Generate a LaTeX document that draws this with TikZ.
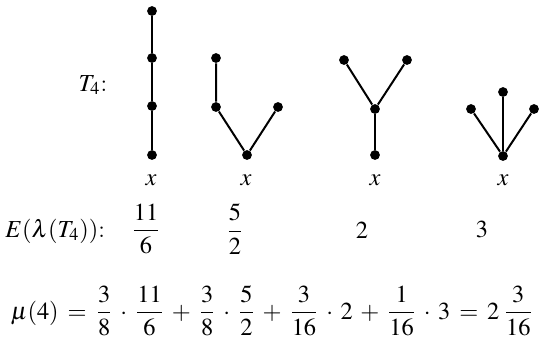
\documentclass[tikz,border=0pt]{standalone}
\usepackage{amsmath}
\usepackage{mathptmx}
\usetikzlibrary{positioning}

\begin{document}
\begin{tikzpicture}[
    x=0.45pt, y=-0.45pt,
    font=\fontsize{11}{13}\selectfont,
    vertex/.style={circle, fill=black, draw=none, inner sep=0pt, minimum size=4.4pt},
    edge/.style={line width=0.9pt, draw=black},
    root/.style={inner sep=1pt},
    val/.style={inner sep=1pt}
]
    \useasboundingbox (0,0) rectangle (539,340);

    % Label of the family
    \node (tl) at (93, 85) {$T_4$:};

    % Tree 1: path
    \node (a1) at (152, 11) [vertex] {};
    \node (a2) at (152, 58) [vertex] {};
    \node (a3) at (152, 106) [vertex] {};
    \node (a4) at (152, 155) [vertex] {};
    \draw [edge] (a1) -- (a2) -- (a3) -- (a4);

    % Tree 2
    \node (b1) at (216, 58) [vertex] {};
    \node (b2) at (216, 107) [vertex] {};
    \node (b3) at (247, 155) [vertex] {};
    \node (b4) at (278, 107) [vertex] {};
    \draw [edge] (b1) -- (b2) -- (b3) -- (b4);

    % Tree 3
    \node (c1) at (344, 60) [vertex] {};
    \node (c2) at (407, 60) [vertex] {};
    \node (c3) at (375, 109) [vertex] {};
    \node (c4) at (375, 155) [vertex] {};
    \draw [edge] (c1) -- (c3) -- (c2);
    \draw [edge] (c3) -- (c4);

    % Tree 4: star
    \node (d1) at (471, 109) [vertex] {};
    \node (d2) at (503, 92) [vertex] {};
    \node (d3) at (534, 109) [vertex] {};
    \node (d4) at (503, 156) [vertex] {};
    \draw [edge] (d1) -- (d4) -- (d3);
    \draw [edge] (d2) -- (d4);

    % Roots
    \node (xa) at (151, 180) [root] {$x$};
    \node (xb) at (246, 180) [root] {$x$};
    \node (xc) at (375, 180) [root] {$x$};
    \node (xd) at (503, 180) [root] {$x$};

    % Expected values
    \node (el) at (5, 231) [anchor=west, inner sep=0pt] {$E(\lambda(T_4))$:};
    \node (ea) at (146, 229) [val] {$\dfrac{11}{6}$};
    \node (eb) at (235, 229) [val] {$\dfrac{5}{2}$};
    \node (ec) at (362, 230) [val] {$2$};
    \node (ed) at (482, 230) [val] {$3$};

    % Average
    \node (mu) at (272, 311) {\medmuskip=5.5mu \thickmuskip=6.5mu
        $\mu(4) = \dfrac{3}{8}\cdot\dfrac{11}{6}+\dfrac{3}{8}\cdot\dfrac{5}{2}+\dfrac{3}{16}\cdot 2+\dfrac{1}{16}\cdot 3 = 2\mkern3mu\dfrac{3}{16}$};

\end{tikzpicture}
\end{document}
